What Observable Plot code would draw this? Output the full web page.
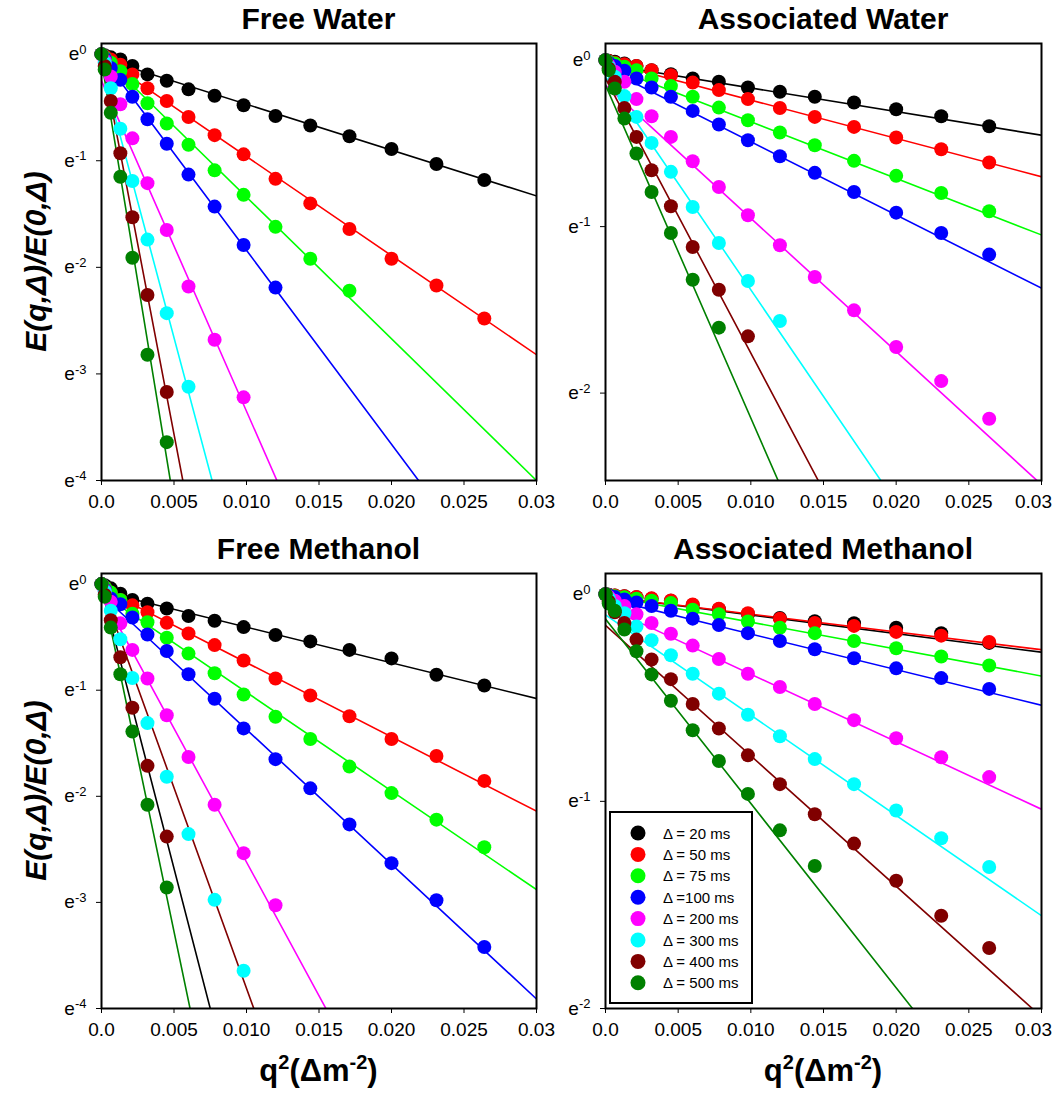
<!DOCTYPE html>
<html><head><meta charset="utf-8">
<script src="https://cdn.jsdelivr.net/npm/d3@7"></script>
<script src="https://cdn.jsdelivr.net/npm/@observablehq/plot@0.6"></script>
<style>
body{margin:0;background:#fff;}
#root{position:relative;width:1054px;height:1094px;background:#fff;overflow:hidden;font-family:"Liberation Sans",Arial,sans-serif;}
#root svg{position:absolute;}
</style></head><body><div id="root"></div>
<script>
// ---------- data ----------
const seriesNames = ["Δ = 20 ms","Δ = 50 ms","Δ = 75 ms","Δ =100 ms","Δ = 200 ms","Δ = 300 ms","Δ = 400 ms","Δ = 500 ms"];
const seriesColors = ["#000000","#ff0000","#00ff00","#0000ff","#ff00ff","#00ffff","#800000","#008000"];
const q2 = [0, 0.00022, 0.00064, 0.0013, 0.00213, 0.00317, 0.0045, 0.0060, 0.0078, 0.0098, 0.0120, 0.0144, 0.0171, 0.0200, 0.0231, 0.0264];
const xTicks = [0, 0.005, 0.010, 0.015, 0.020, 0.025, 0.03];
const xTickLabels = ["0.0", "0.005", "0.010", "0.015", "0.020", "0.025", "0.03"];
const panelTitles = ["Free Water", "Associated Water", "Free Methanol", "Associated Methanol"];

// ln(E(q,Δ)/E(0,Δ)) per series (20,50,75,100,200,300,400,500 ms)
const freeWaterLnE = [
  [0, -0.01, -0.03, -0.05, -0.11, -0.19, -0.25, -0.33, -0.39, -0.48, -0.58, -0.67, -0.77, -0.89, -1.03, -1.18],
  [0, -0.02, -0.05, -0.10, -0.19, -0.32, -0.44, -0.59, -0.76, -0.94, -1.17, -1.40, -1.64, -1.92, -2.17, -2.48],
  [0, -0.03, -0.08, -0.16, -0.28, -0.46, -0.65, -0.85, -1.09, -1.32, -1.62, -1.92, -2.22],
  [0, -0.04, -0.13, -0.24, -0.40, -0.61, -0.84, -1.13, -1.43, -1.79, -2.19],
  [0, -0.06, -0.21, -0.47, -0.79, -1.21, -1.65, -2.18, -2.68, -3.22],
  [0, -0.08, -0.32, -0.70, -1.19, -1.74, -2.43, -3.12],
  [0, -0.11, -0.44, -0.93, -1.53, -2.26, -3.17],
  [0, -0.145, -0.55, -1.15, -1.91, -2.82, -3.64]
];
const freeWaterFitA = [-0.04, -0.03, -0.01, -0.02, -0.25, -0.11, 0, -0.06];
const freeWaterFitB = [43, 93, 133, 182, 310, 510, 713, 830];
const freeWaterFitColor = [0, 1, 2, 3, 4, 5, 6, 7];

const assocWaterLnE = [
  [0, -0.003, -0.01, -0.02, -0.035, -0.06, -0.084, -0.11, -0.13, -0.164, -0.19, -0.22, -0.254, -0.295, -0.337, -0.397],
  [0, -0.005, -0.015, -0.025, -0.035, -0.06, -0.09, -0.135, -0.18, -0.234, -0.287, -0.341, -0.401, -0.465, -0.535, -0.615],
  [0, -0.01, -0.02, -0.04, -0.06, -0.11, -0.156, -0.22, -0.285, -0.361, -0.435, -0.511, -0.605, -0.695, -0.798, -0.908],
  [0, -0.015, -0.035, -0.064, -0.11, -0.164, -0.22, -0.305, -0.387, -0.481, -0.577, -0.677, -0.792, -0.916, -1.038, -1.168],
  [0, -0.03, -0.07, -0.13, -0.234, -0.337, -0.461, -0.607, -0.762, -0.932, -1.112, -1.303, -1.503, -1.723, -1.928, -2.154],
  [0, -0.04, -0.10, -0.216, -0.341, -0.497, -0.671, -0.882, -1.098, -1.327, -1.567],
  [0, -0.05, -0.13, -0.287, -0.461, -0.661, -0.878, -1.122, -1.379, -1.659],
  [0, -0.06, -0.17, -0.351, -0.561, -0.792, -1.038, -1.319, -1.607]
];
const assocWaterFitA = [-0.025, -0.01, -0.03, -0.05, -0.15, -0.10, -0.11, -0.15];
const assocWaterFitB = [14.2, 23, 34, 44, 80, 128, 165, 200];
const assocWaterFitColor = [0, 1, 2, 3, 4, 5, 6, 7];

const freeMethLnE = [
  [0, -0.01, -0.04, -0.09, -0.15, -0.185, -0.23, -0.30, -0.345, -0.405, -0.48, -0.54, -0.62, -0.70, -0.855, -0.956],
  [0, -0.03, -0.08, -0.15, -0.20, -0.265, -0.365, -0.465, -0.575, -0.72, -0.89, -1.05, -1.245, -1.46, -1.62, -1.855],
  [0, -0.03, -0.08, -0.15, -0.28, -0.36, -0.505, -0.655, -0.84, -1.04, -1.25, -1.46, -1.72, -1.97, -2.22, -2.48],
  [0, -0.05, -0.135, -0.19, -0.315, -0.475, -0.63, -0.85, -1.08, -1.36, -1.65, -1.925, -2.265, -2.63, -2.98, -3.42],
  [0, -0.06, -0.167, -0.37, -0.62, -0.89, -1.236, -1.63, -2.08, -2.536, -3.027],
  [0, -0.07, -0.25, -0.52, -0.885, -1.31, -1.816, -2.356, -2.976, -3.644],
  [0, -0.10, -0.34, -0.69, -1.165, -1.713, -2.38],
  [0, -0.12, -0.41, -0.85, -1.39, -2.08, -2.86]
];
const freeMethFitA = [-0.07, -0.04, -0.09, -0.10, -0.10, -0.03, -0.04, 0];
const freeMethFitB = [33.6, 70, 93, 127, 252, 378, 528, 655];
const freeMethFitColor = [0, 1, 2, 3, 4, 6, 0, 7];

const assocMethLnE = [
  [0, -0.003, -0.006, -0.01, -0.015, -0.022, -0.032, -0.052, -0.072, -0.095, -0.115, -0.13, -0.14, -0.162, -0.188, -0.235],
  [0, -0.003, -0.006, -0.01, -0.014, -0.02, -0.03, -0.05, -0.07, -0.092, -0.118, -0.139, -0.153, -0.182, -0.20, -0.231],
  [0, -0.005, -0.01, -0.015, -0.022, -0.031, -0.043, -0.075, -0.097, -0.132, -0.162, -0.188, -0.226, -0.261, -0.301, -0.344],
  [0, -0.005, -0.014, -0.025, -0.04, -0.057, -0.08, -0.118, -0.149, -0.188, -0.226, -0.266, -0.309, -0.358, -0.405, -0.457],
  [0, -0.012, -0.031, -0.057, -0.097, -0.139, -0.191, -0.248, -0.313, -0.384, -0.448, -0.53, -0.608, -0.695, -0.787, -0.883],
  [0, -0.02, -0.057, -0.092, -0.156, -0.222, -0.295, -0.384, -0.48, -0.582, -0.686, -0.796, -0.917, -1.044, -1.178, -1.317],
  [0, -0.035, -0.087, -0.139, -0.219, -0.315, -0.41, -0.53, -0.648, -0.778, -0.917, -1.062, -1.204, -1.383, -1.552, -1.708],
  [0, -0.045, -0.08, -0.17, -0.275, -0.387, -0.514, -0.657, -0.805, -0.964, -1.14, -1.312]
];
const assocMethFitA = [-0.01, -0.01, -0.005, -0.02, -0.06, -0.10, -0.15, -0.12];
const assocMethFitB = [9.0, 8.6, 13, 17.2, 32.6, 48.4, 63, 89];
const assocMethFitColor = [0, 1, 2, 3, 4, 5, 6, 7];

const yTicksDeep = [0, -1, -2, -3, -4];
const yTicksShallow = [0, -1, -2];

// ---------- drawing ----------
const root = document.getElementById("root");
const FONT = '"Liberation Sans", Arial, sans-serif';

function fixLabels(svg, rightEdge) {
  d3.select(svg).selectAll('g[aria-label="y-axis tick label"] text').each(function () {
    const t = this.textContent;
    const sel = d3.select(this);
    sel.text(null);
    sel.append("tspan").text("e");
    sel.append("tspan").attr("dy", "-0.5em").attr("font-size", "13px").text(t.slice(1));
  });
  if (rightEdge) {
    // keep the last x tick label inside the page edge
    d3.select(svg).selectAll('g[aria-label="x-axis tick label"] text')
      .filter(function () { return this.textContent === xTickLabels[xTickLabels.length - 1]; })
      .attr("dx", -8);
  }
}

function panel(cfg) {
  const pts = [];
  cfg.lnE.forEach((vals, s) => vals.forEach((v, i) => pts.push({x: q2[i], y: Math.exp(v), c: seriesColors[s]})));
  const lines = [];
  cfg.fitA.forEach((a, s) => [0, 0.03].forEach(x => lines.push({x, y: Math.exp(a - cfg.fitB[s] * x), s, c: seriesColors[cfg.fitColor[s]]})));
  const p = cfg.pos;
  const plot = Plot.plot({
    width: p.w, height: p.h,
    marginLeft: p.fl - p.left, marginRight: p.left + p.w - p.fr,
    marginTop: p.ft - p.top, marginBottom: p.top + p.h - p.fb,
    style: {fontFamily: FONT, fontSize: "19px", background: "transparent", color: "#000", overflow: "visible"},
    color: {type: "identity"},
    x: {domain: [0, 0.03], ticks: xTicks, tickFormat: d => xTickLabels[xTicks.indexOf(d)], tickSize: 5, tickPadding: 9, label: null},
    y: {type: "log", base: Math.E, domain: [Math.exp(cfg.yMin), Math.exp(0.1)], ticks: cfg.yTicks.map(Math.exp),
        tickFormat: d => "e" + Math.round(Math.log(d)), tickSize: 5, tickPadding: 10, label: null},
    marks: [
      Plot.line(lines, {x: "x", y: "y", z: "s", stroke: "c", strokeWidth: 1.6, clip: true}),
      Plot.dot(pts, {x: "x", y: "y", r: 7, fill: "c", stroke: "none"}),
      Plot.frame({stroke: "#000", strokeWidth: 2})
    ]
  });
  fixLabels(plot, cfg.rightEdge);
  plot.style.left = p.left + "px";
  plot.style.top = p.top + "px";
  root.appendChild(plot);
}

const P1 = {left: 0, top: 0, w: 545, h: 530, fl: 101, fr: 536, ft: 43, fb: 480};
const P2 = {left: 545, top: 0, w: 509, h: 530, fl: 605, fr: 1041, ft: 43, fb: 480};
const P3 = {left: 0, top: 530, w: 545, h: 564, fl: 101, fr: 536, ft: 573, fb: 1008};
const P4 = {left: 545, top: 530, w: 509, h: 564, fl: 605, fr: 1041, ft: 573, fb: 1008};

panel({pos: P1, lnE: freeWaterLnE, fitA: freeWaterFitA, fitB: freeWaterFitB, fitColor: freeWaterFitColor, yMin: -4, yTicks: yTicksDeep});
panel({pos: P2, lnE: assocWaterLnE, fitA: assocWaterFitA, fitB: assocWaterFitB, fitColor: assocWaterFitColor, yMin: -2.525, yTicks: yTicksShallow, rightEdge: true});
panel({pos: P3, lnE: freeMethLnE, fitA: freeMethFitA, fitB: freeMethFitB, fitColor: freeMethFitColor, yMin: -4, yTicks: yTicksDeep});
panel({pos: P4, lnE: assocMethLnE, fitA: assocMethFitA, fitB: assocMethFitB, fitColor: assocMethFitColor, yMin: -2, yTicks: yTicksShallow, rightEdge: true});

// overlay: titles, axis titles, legend
const ov = d3.select(root).append("svg").attr("width", 1054).attr("height", 1094)
  .style("left", "0px").style("top", "0px").attr("font-family", FONT);

[P1, P2, P3, P4].forEach((p, i) => {
  ov.append("text").attr("x", (p.fl + p.fr) / 2).attr("y", p.ft - 14)
    .attr("text-anchor", "middle").attr("font-size", 30).attr("font-weight", "bold").text(panelTitles[i]);
});
[P1, P3].forEach(p => {
  ov.append("text").attr("transform", `translate(46,${(p.ft + p.fb) / 2}) rotate(-90)`)
    .attr("text-anchor", "middle").attr("font-size", 30).attr("font-weight", "bold").attr("font-style", "italic")
    .text("E(q,Δ)/E(0,Δ)");
});
[P3, P4].forEach(p => {
  const t = ov.append("text").attr("x", (p.fl + p.fr) / 2).attr("y", 1081)
    .attr("text-anchor", "middle").attr("font-size", 31).attr("font-weight", "bold");
  t.append("tspan").text("q");
  t.append("tspan").attr("font-size", 20).attr("dy", -12).text("2");
  t.append("tspan").attr("dy", 12).text("(Δm");
  t.append("tspan").attr("font-size", 20).attr("dy", -12).text("-2");
  t.append("tspan").attr("dy", 12).text(")");
});

const lg = ov.append("g");
lg.append("rect").attr("x", 610).attr("y", 812).attr("width", 142).attr("height", 191)
  .attr("fill", "#fff").attr("stroke", "#000").attr("stroke-width", 2);
seriesNames.forEach((name, i) => {
  const y = 833 + i * 21.4;
  lg.append("circle").attr("cx", 638).attr("cy", y).attr("r", 7.5).attr("fill", seriesColors[i]);
  lg.append("text").attr("x", 663).attr("y", y + 5.5).attr("font-size", 15).text(name);
});
</script></body></html>
